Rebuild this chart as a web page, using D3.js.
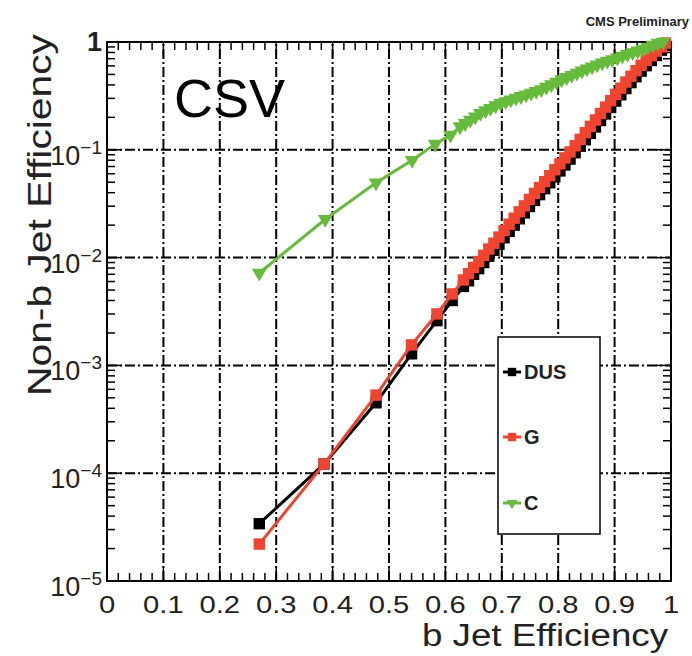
<!DOCTYPE html>
<html>
<head>
<meta charset="utf-8">
<script src="https://cdn.jsdelivr.net/npm/d3@7"></script>
<style>
  body { margin: 0; background: #fff; }
</style>
</head>
<body>
<div id="chart"></div>
<script>
// b-tag efficiency points shared by the DUS and G curves
const effB = [0.270, 0.385, 0.477, 0.540, 0.585, 0.612, 0.632, 0.641, 0.650, 0.659, 0.668,
  0.677, 0.686, 0.695, 0.704, 0.713, 0.722, 0.731, 0.740, 0.749, 0.758, 0.767, 0.776,
  0.785, 0.794, 0.803, 0.812, 0.821, 0.830, 0.839, 0.848, 0.857, 0.866, 0.875, 0.884,
  0.893, 0.902, 0.911, 0.920, 0.929, 0.938, 0.947, 0.956, 0.965, 0.974, 0.983, 0.990];

const mistagDUS = [3.4e-5, 1.22e-4, 4.5e-4, 1.28e-3, 2.6e-3, 4.0e-3, 5.4e-3, 6.1e-3, 7.0e-3,
  7.9e-3, 9.0e-3, 1.03e-2, 1.17e-2, 1.33e-2, 1.53e-2, 1.75e-2, 2.0e-2, 2.29e-2, 2.6e-2,
  2.98e-2, 3.39e-2, 3.84e-2, 4.36e-2, 4.95e-2, 5.62e-2, 6.37e-2, 7.23e-2, 8.2e-2, 9.4e-2,
  0.108, 0.124, 0.142, 0.163, 0.187, 0.215, 0.247, 0.283, 0.324, 0.37, 0.42, 0.476,
  0.537, 0.603, 0.674, 0.75, 0.84, 0.93];

const mistagG = [2.2e-5, 1.22e-4, 5.3e-4, 1.55e-3, 3.0e-3, 4.6e-3, 6.2e-3, 7.1e-3, 8.1e-3,
  9.2e-3, 1.05e-2, 1.2e-2, 1.36e-2, 1.55e-2, 1.78e-2, 2.04e-2, 2.32e-2, 2.66e-2, 3.02e-2,
  3.47e-2, 3.94e-2, 4.47e-2, 5.07e-2, 5.75e-2, 6.53e-2, 7.41e-2, 8.41e-2, 9.55e-2, 0.109,
  0.125, 0.144, 0.165, 0.189, 0.217, 0.249, 0.286, 0.327, 0.373, 0.425, 0.481, 0.542,
  0.608, 0.676, 0.746, 0.822, 0.90, 0.977];

// c-jet curve has its own efficiency points
const effBC = [0.270, 0.387, 0.477, 0.541, 0.582, 0.609, 0.626, 0.635, 0.644, 0.653, 0.662,
  0.671, 0.680, 0.689, 0.698, 0.707, 0.716, 0.725, 0.734, 0.743, 0.752, 0.761, 0.770,
  0.779, 0.788, 0.797, 0.806, 0.815, 0.824, 0.833, 0.842, 0.851, 0.860, 0.869, 0.878,
  0.887, 0.896, 0.905, 0.914, 0.923, 0.932, 0.941, 0.950, 0.959, 0.968, 0.977, 0.986];

const mistagC = [7.2e-3, 2.27e-2, 4.95e-2, 8.0e-2, 0.113, 0.137, 0.164, 0.176, 0.189, 0.203,
  0.218, 0.231, 0.243, 0.257, 0.271, 0.281, 0.291, 0.302, 0.313, 0.324, 0.337, 0.349,
  0.363, 0.383, 0.404, 0.426, 0.448, 0.47, 0.492, 0.515, 0.54, 0.564, 0.589, 0.616,
  0.641, 0.665, 0.689, 0.715, 0.741, 0.769, 0.798, 0.827, 0.859, 0.898, 0.938, 0.977, 1.0];

const seriesNames = ['DUS', 'G', 'C'];
const xTickValues = [0, 0.1, 0.2, 0.3, 0.4, 0.5, 0.6, 0.7, 0.8, 0.9, 1];
const xTickLabels = ['0', '0.1', '0.2', '0.3', '0.4', '0.5', '0.6', '0.7', '0.8', '0.9', '1'];
const yTickExponents = [0, -1, -2, -3, -4, -5];

const colors = { DUS: '#000000', G: '#ee4430', C: '#66bb3c' };

function drawChart() {
  const W = 692, H = 656;
  const font = "'Liberation Sans', Arial, Helvetica, sans-serif";
  const L = 107, R = 671, T = 42, B = 581;

  const svg = d3.select('#chart').append('svg')
    .attr('width', W).attr('height', H)
    .style('font-family', font);

  const x = d3.scaleLinear().domain([0, 1]).range([L, R]);
  const y = d3.scaleLog().domain([1e-5, 1]).range([B, T]);

  // grid (dash-dot, ROOT style)
  const grid = svg.append('g')
    .attr('stroke', '#000').attr('stroke-width', 2)
    .attr('stroke-dasharray', '10,3,2,3');
  grid.selectAll('.gx')
    .data(xTickValues.filter(d => d > 0 && d < 1))
    .join('line')
    .attr('x1', d => x(d)).attr('x2', d => x(d))
    .attr('y1', B).attr('y2', T);
  grid.selectAll('.gy')
    .data(yTickExponents.filter(e => e < 0 && e > -5).map(e => Math.pow(10, e)))
    .join('line')
    .attr('x1', L).attr('x2', R)
    .attr('y1', d => y(d)).attr('y2', d => y(d));

  // ticks, inward on all four sides
  const ticks = svg.append('g').attr('stroke', '#000').attr('stroke-width', 1.5);
  const xMinor = d3.range(0, 50).map(i => i * 0.02).filter(d => Math.round(d * 50) % 5 !== 0);
  [B, T].forEach((yy, k) => {
    const dir = k === 0 ? -1 : 1;
    ticks.selectAll(null).data(xMinor).join('line')
      .attr('x1', d => x(d)).attr('x2', d => x(d))
      .attr('y1', yy).attr('y2', yy + dir * 8);
    ticks.selectAll(null).data(xTickValues).join('line')
      .attr('x1', d => x(d)).attr('x2', d => x(d))
      .attr('y1', yy).attr('y2', yy + dir * 15);
  });
  const yMinor = [];
  for (let e = -5; e < 0; e++) for (let m = 2; m <= 9; m++) yMinor.push(m * Math.pow(10, e));
  [L, R].forEach((xx, k) => {
    const dir = k === 0 ? 1 : -1;
    ticks.selectAll(null).data(yMinor).join('line')
      .attr('x1', xx).attr('x2', xx + dir * 8)
      .attr('y1', d => y(d)).attr('y2', d => y(d));
    ticks.selectAll(null).data(yTickExponents.map(e => Math.pow(10, e))).join('line')
      .attr('x1', xx).attr('x2', xx + dir * 15)
      .attr('y1', d => y(d)).attr('y2', d => y(d));
  });

  // frame
  svg.append('rect')
    .attr('x', L).attr('y', T).attr('width', R - L).attr('height', B - T)
    .attr('fill', 'none').attr('stroke', '#000').attr('stroke-width', 2);

  // x tick labels
  svg.append('g').selectAll('text')
    .data(xTickValues)
    .join('text')
    .attr('transform', d => `translate(${x(d)},613) scale(1.27,1)`)
    .attr('text-anchor', 'middle')
    .attr('font-size', 23)
    .attr('fill', '#222')
    .text((d, i) => xTickLabels[i]);

  // y tick labels
  const yl = svg.append('g').selectAll('text')
    .data(yTickExponents)
    .join('text')
    .attr('x', 102)
    .attr('y', e => y(Math.pow(10, e)) + (e === 0 ? 9 : 15))
    .attr('text-anchor', 'end')
    .attr('font-size', 27)
    .attr('fill', '#222');
  yl.each(function (e) {
    const t = d3.select(this);
    if (e === 0) { t.text('1').attr('font-weight', 'bold'); return; }
    t.append('tspan').text('10');
    t.append('tspan').attr('font-size', 19).attr('dy', -11).text('\u2212' + (-e));
  });

  // axis titles
  svg.append('text')
    .attr('x', 668).attr('y', 646)
    .attr('text-anchor', 'end')
    .attr('font-size', 31)
    .attr('textLength', 246).attr('lengthAdjust', 'spacingAndGlyphs')
    .attr('fill', '#222')
    .text('b Jet Efficiency');
  svg.append('text')
    .attr('transform', 'translate(51,34) rotate(-90)')
    .attr('text-anchor', 'end')
    .attr('font-size', 33)
    .attr('textLength', 362).attr('lengthAdjust', 'spacingAndGlyphs')
    .attr('fill', '#222')
    .text('Non-b Jet Efficiency');

  // curves
  const line = d3.line().x(d => x(d[0])).y(d => y(d[1]));
  const series = [
    { name: 'DUS', pts: effB.map((v, i) => [v, mistagDUS[i]]), shape: d3.symbolSquare },
    { name: 'G', pts: effB.map((v, i) => [v, mistagG[i]]), shape: d3.symbolSquare },
    { name: 'C', pts: effBC.map((v, i) => [v, mistagC[i]]), shape: d3.symbolTriangle }
  ];
  series.forEach(s => {
    const g = svg.append('g');
    g.append('path')
      .attr('d', line(s.pts))
      .attr('fill', 'none')
      .attr('stroke', colors[s.name])
      .attr('stroke-width', 3);
    const sym = d3.symbol().type(s.shape).size(s.shape === d3.symbolSquare ? 130 : 95);
    g.selectAll('path.m').data(s.pts).join('path')
      .attr('class', 'm')
      .attr('transform', d => `translate(${x(d[0])},${y(d[1])})` +
        (s.shape === d3.symbolTriangle ? ' rotate(180)' : ''))
      .attr('d', sym())
      .attr('fill', colors[s.name]);
  });

  // legend
  const lg = svg.append('g');
  lg.append('rect')
    .attr('x', 498).attr('y', 337).attr('width', 102).attr('height', 197)
    .attr('fill', '#fff').attr('stroke', '#000').attr('stroke-width', 1.5);
  const legY = [372, 437, 503];
  seriesNames.forEach((n, i) => {
    lg.append('line')
      .attr('x1', 503).attr('x2', 521).attr('y1', legY[i]).attr('y2', legY[i])
      .attr('stroke', colors[n]).attr('stroke-width', 3);
    const shape = n === 'C' ? d3.symbolTriangle : d3.symbolSquare;
    lg.append('path')
      .attr('transform', `translate(512,${legY[i]})` + (n === 'C' ? ' rotate(180)' : ''))
      .attr('d', d3.symbol().type(shape).size(n === 'C' ? 50 : 70)())
      .attr('fill', colors[n]);
    lg.append('text')
      .attr('x', 524).attr('y', legY[i] + 7)
      .attr('font-size', 20).attr('font-weight', 'bold')
      .attr('fill', '#222')
      .text(n);
  });

  // labels
  svg.append('text')
    .attr('x', 174).attr('y', 117)
    .attr('font-size', 54)
    .attr('fill', '#000')
    .text('CSV');
  svg.append('text')
    .attr('x', 689).attr('y', 26)
    .attr('text-anchor', 'end')
    .attr('font-size', 13).attr('font-weight', 'bold')
    .attr('fill', '#222')
    .text('CMS Preliminary');
}

drawChart();
</script>
</body>
</html>
